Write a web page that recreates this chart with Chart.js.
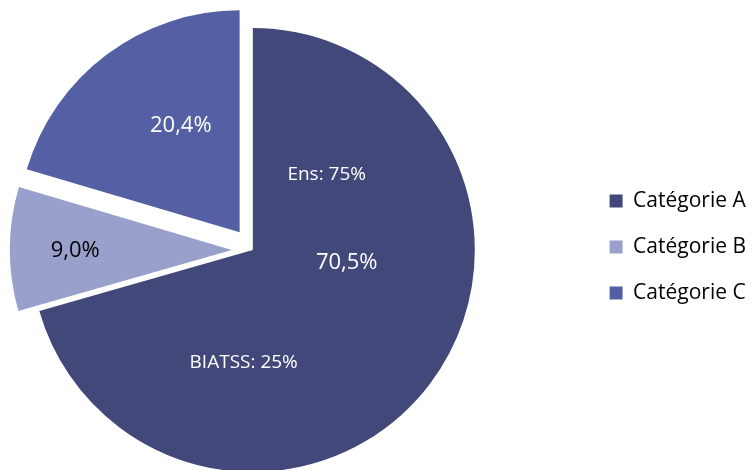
<!DOCTYPE html>
<html>
<head>
<meta charset="utf-8">
<script src="https://cdn.jsdelivr.net/npm/chart.js@4/dist/chart.umd.min.js"></script>
<style>
    body { margin: 0; background: #fff; overflow: hidden; }
    /* le camembert est décalé à gauche de la zone du graphique */
    #pie_chart { display: block; margin-left: -79px; }
</style>
</head>
<body>
<canvas id="pie_chart" width="835" height="470"></canvas>
<script>
const categories = ['Catégorie A', 'Catégorie B', 'Catégorie C'];
const shares = [70.5, 9.0, 20.4];
// sous-répartition écrite dans la part A
const noteLabels = ['Ens', 'BIATSS'];
const noteShares = [75, 25];

const colors = ['#42497A', '#99A0CB', '#5460A3'];
const labelColors = ['#fff', '#000', '#fff'];
// décalage des parts (px) et place des étiquettes en fraction du rayon
const explode = [0, 21, 22];
const labelPos = [[0.423, 0.059], [-0.705, 0.005], [-0.265, -0.48]];
const notePos = [[0.333, -0.338], [-0.041, 0.505]];

function fmt(v) {
    return v.toFixed(1).replace('.', ',') + '%';
}

// parts détachées comme dans Excel : on déplace le centre de l'arc
const explodePlugin = {
    id: 'explode',
    afterDatasetsUpdate: function(chart) {
        var arcs = chart.getDatasetMeta(0).data;
        arcs.forEach(function(arc, i) {
            var mid = (arc.startAngle + arc.endAngle) / 2;
            arc.x += Math.cos(mid) * explode[i];
            arc.y += Math.sin(mid) * explode[i];
        });
    }
};

const legendShift = {
    id: 'legendShift',
    afterLayout: function(chart) {
        chart.legend.top -= 3;
        chart.legend.bottom -= 3;
    }
};

const labelsPlugin = {
    id: 'sliceLabels',
    afterDatasetsDraw: function(chart) {
        var ctx = chart.ctx;
        var arcs = chart.getDatasetMeta(0).data;
        ctx.save();
        ctx.textAlign = 'center';
        ctx.textBaseline = 'middle';
        ctx.font = '22px "Open Sans"';
        arcs.forEach(function(arc, i) {
            var r = arc.outerRadius;
            ctx.fillStyle = labelColors[i];
            ctx.fillText(fmt(shares[i]), arc.x + labelPos[i][0] * r, arc.y + labelPos[i][1] * r);
        });
        var a = arcs[0];
        ctx.font = '19px "Open Sans"';
        ctx.fillStyle = '#fff';
        for (var j = 0; j < noteLabels.length; j++) {
            ctx.fillText(noteLabels[j] + ': ' + noteShares[j] + '%',
                a.x + notePos[j][0] * a.outerRadius, a.y + notePos[j][1] * a.outerRadius);
        }
        ctx.restore();
    }
};

const data = {
    labels: categories,
    datasets: [{
        data: shares,
        backgroundColor: colors,
        borderWidth: 0,
        radius: 222,
        clip: false
    }]
};

const options = {
    responsive: false,
    animation: false,
    layout: {
        padding: { left: 0, right: 0, top: 30, bottom: 0 }
    },
    plugins: {
        legend: {
            position: 'right',
            labels: {
                boxWidth: 13,
                boxHeight: 13,
                padding: 25,
                color: '#000',
                font: { family: 'Open Sans', size: 21 }
            }
        },
        tooltip: { enabled: false }
    }
};

var ctxPie = document.getElementById('pie_chart');
var pieChart = new Chart(ctxPie, {
    type: 'pie',
    data: data,
    options: options,
    plugins: [explodePlugin, legendShift, labelsPlugin]
});
</script>
</body>
</html>
